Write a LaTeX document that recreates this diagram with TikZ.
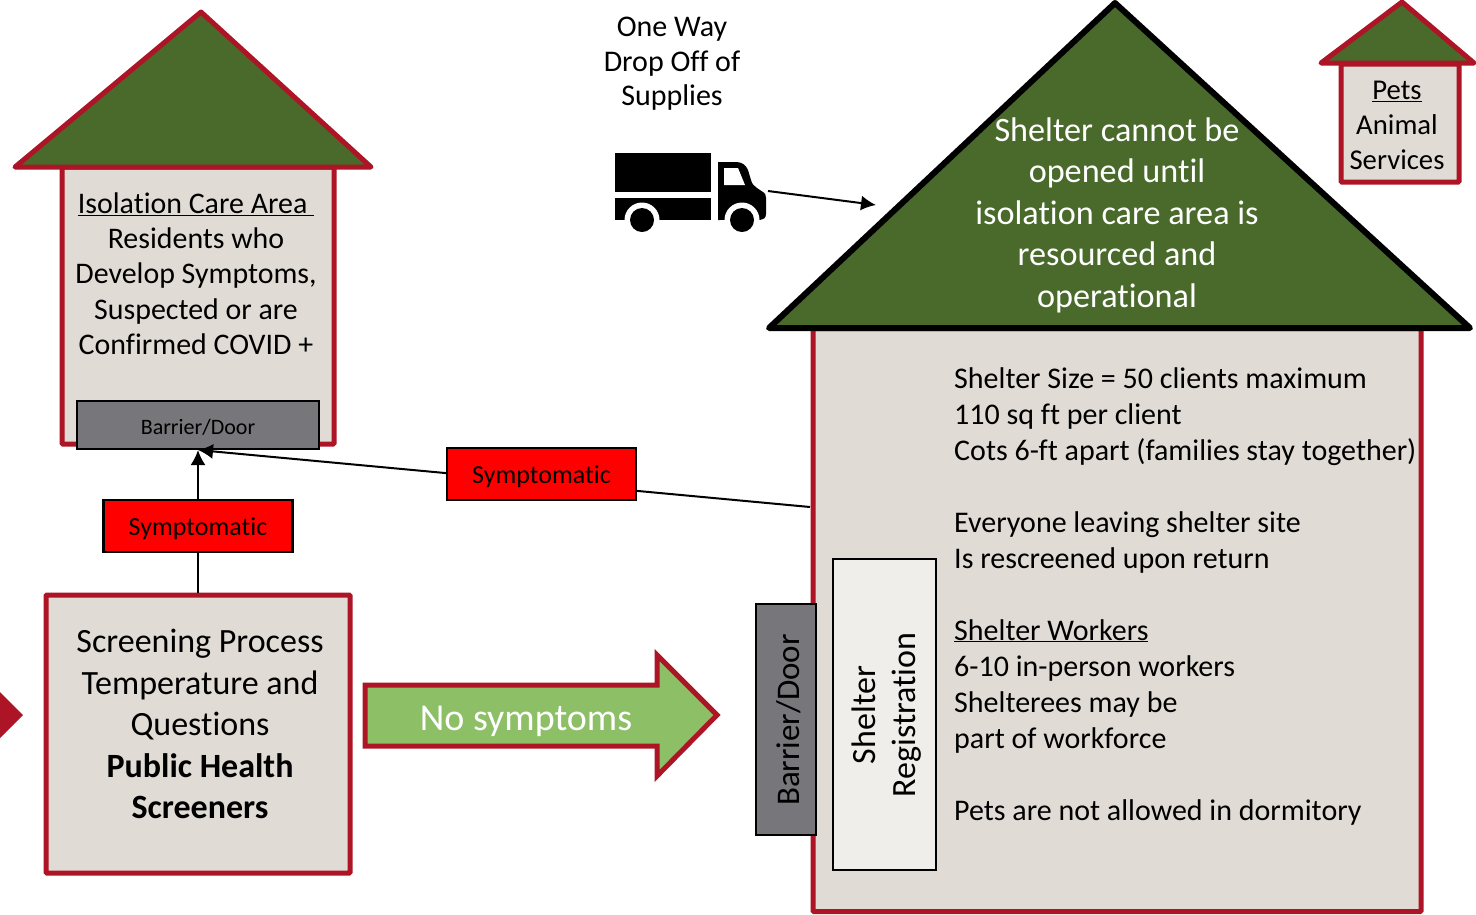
\documentclass[tikz,border=0pt]{standalone}
\usepackage{fontspec}
\setmainfont[Ligatures=NoCommon]{Carlito}
\usetikzlibrary{arrows.meta}
\definecolor{wallred}{HTML}{AD1425}
\definecolor{wallbeige}{HTML}{E0DBD4}
\definecolor{roofgreen}{HTML}{4A6A2C}
\definecolor{doorgrey}{HTML}{77767B}
\definecolor{goodgreen}{HTML}{8DBF67}
\definecolor{regwhite}{HTML}{EFEEEA}
\tikzset{
  wall/.style={draw=wallred,fill=wallbeige,line width=5pt,rounded corners=1pt,inner sep=0pt},
  roof/.style={draw=wallred,fill=roofgreen,line width=5pt,line join=round},
  door/.style={draw=black,fill=doorgrey,line width=2pt,inner sep=0pt},
  flag/.style={draw=black,fill=red,line width=2.5pt,inner sep=0pt,minimum width=189pt,minimum height=52pt,font=\fontsize{26}{30}\selectfont},
  txt/.style={inner sep=0pt,align=center},
  link/.style={draw,line width=2pt},
}
\begin{document}
\begin{tikzpicture}[x=1pt,y=-1pt,>={Latex[length=15pt,width=15pt]}]
\useasboundingbox (0,0) rectangle (1476,914);

\node[wall,minimum width=272pt,minimum height=277pt] (isobody) at (198,305.5) {};
\draw[roof] (201,12) -- (371,167) -- (15,167) -- cycle;
\node[door,minimum width=242pt,minimum height=48pt,font=\fontsize{22}{26}\selectfont] (isodoor) at (198,425) {\raisebox{-9pt}[0pt][0pt]{Barrier/Door}};
\node[txt,font=\fontsize{29.9}{35.3}\selectfont] (isotext) at (196,273.5) {\underline{Isolation Care Area\ }\\Residents who\\Develop Symptoms,\\Suspected or are\\Confirmed COVID +};

\node[wall,minimum width=608pt,minimum height=583pt] (shelter) at (1117,620) {};
\draw[roof,draw=black,line width=6pt] (1115,3) -- (1470,328) -- (769,328) -- cycle;
\node[txt,text=white,font=\fontsize{34.2}{41.5}\selectfont] (rooftext) at (1117,215) {Shelter cannot be\\opened until\\isolation care area is\\resourced and\\operational};
\node[txt,align=left,anchor=north west,font=\fontsize{30}{36}\selectfont] (info) at (954,367) {Shelter Size = 50 clients maximum\\110 sq ft per client\\Cots 6-ft apart (families stay together)\\[36pt]Everyone leaving shelter site\\Is rescreened upon return\\[36pt]\underline{Shelter Workers}\\6-10 in-person workers\\Shelterees may be\\part of workforce\\[36pt]Pets are not allowed in dormitory};
\coordinate (shelterwall) at (810,507);

\node[wall,minimum width=118pt,minimum height=118pt] (petbody) at (1400,123) {};
\draw[roof] (1402,2) -- (1474,63) -- (1321,63) -- cycle;
\node[txt,font=\fontsize{28.7}{35}\selectfont] (pettext) at (1397,125) {\underline{Pets}\\Animal\\Services};

\node[wall,minimum width=304pt,minimum height=278pt] (screen) at (198,734) {};
\node[txt,font=\fontsize{34}{41.5}\selectfont] (screentext) at (200,724) {Screening Process\\Temperature and\\Questions\\\textbf{Public Health}\\\textbf{Screeners}};

\path[link,->] (screen.north) -- (isodoor.south);
\path[link,->] (shelterwall) -- (isodoor.south);
\node[flag] (symptleft) at (198,526) {\raisebox{-9pt}[0pt][0pt]{Symptomatic}};
\node[flag] (symptright) at (541.5,474) {\raisebox{-9pt}[0pt][0pt]{Symptomatic}};

\draw[roof,fill=goodgreen,line join=miter] (365,685) -- (657,685) -- (657,655) -- (717,715) -- (657,776) -- (657,746) -- (365,746) -- cycle;
\node[txt,text=white,font=\fontsize{38}{44}\selectfont] (nosymptoms) at (526,721) {No symptoms};
\fill[wallred] (0,692) -- (23,715) -- (0,738) -- cycle;

\node[door,minimum width=60pt,minimum height=231pt] (bigdoor) at (786,719.5) {};
\node[txt,rotate=90,font=\fontsize{33}{40}\selectfont] (bigdoortext) at (789,720) {Barrier/Door};
\node[door,fill=regwhite,minimum width=103pt,minimum height=311pt] (reg) at (884.5,714.5) {};
\node[txt,rotate=90,font=\fontsize{34}{40}\selectfont] (regtext) at (887,715) {Shelter\\Registration};

\node[txt,font=\fontsize{30}{34.5}\selectfont] (dropoff) at (672,64) {One Way\\Drop Off of\\Supplies};
\fill (615,153) rectangle (711,191.5);
\fill (615,198) rectangle (711,220);
\fill (718,220) -- (718,162) -- (736,162) .. controls (742,162) and (746,165) .. (748,170) -- (751,180) .. controls (752,184) and (754,186) .. (757,188) -- (763,192) .. controls (765,193) and (766,195) .. (766,198) -- (766,214) .. controls (766,218) and (763,220) .. (760,220) -- cycle;
\fill[white] (724,168) -- (738,168) -- (745,185) -- (724,185) -- cycle;
\fill[white] (642,220) circle (17.5) (742,220) circle (17.5);
\fill[white] (620,220) rectangle (665,232) (720,220) rectangle (764,232);
\fill (642,220) circle (12) (742,220) circle (12);
\coordinate (truckfront) at (768,191);
\coordinate (roofedge) at (876,205);
\path[link,->] (truckfront) -- (roofedge);
\end{tikzpicture}
\end{document}
